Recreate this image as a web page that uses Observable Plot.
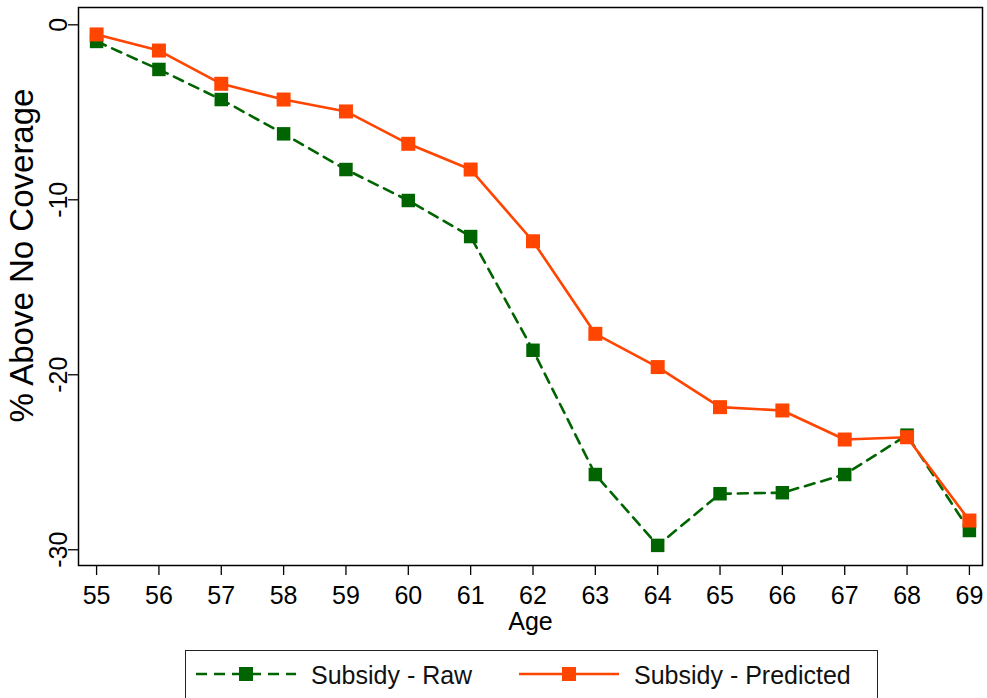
<!DOCTYPE html>
<html>
<head>
<meta charset="utf-8">
<script src="https://cdn.jsdelivr.net/npm/d3@7"></script>
<script src="https://cdn.jsdelivr.net/npm/@observablehq/plot@0.6"></script>
<style>
  html, body { margin: 0; padding: 0; background: white; overflow: hidden; }
  #chart svg { display: block; }
  #legend { position: relative; margin-left: 185px; margin-top: 5px; width: 693px; height: 60px;
            border: 1.5px solid #222; box-sizing: border-box; font-family: "Liberation Sans", Arial, sans-serif; }
  #legend .lab { position: absolute; font-size: 25px; line-height: 25px; top: 12px; color: #111; white-space: nowrap; }
  #legend svg { position: absolute; top: 12.5px; }
</style>
</head>
<body>
<div id="chart"></div>
<div id="legend"></div>
<script>
const ages = [55, 56, 57, 58, 59, 60, 61, 62, 63, 64, 65, 66, 67, 68, 69];
const raw = [-0.95, -2.55, -4.27, -6.23, -8.27, -10.04, -12.1, -18.6, -25.7, -29.75, -26.8, -26.74, -25.7, -23.45, -28.9];
const predicted = [-0.55, -1.47, -3.37, -4.27, -4.95, -6.8, -8.27, -12.37, -17.66, -19.56, -21.85, -22.04, -23.7, -23.57, -28.33];
const yTicks = [0, -10, -20, -30];
const seriesNames = ["Subsidy - Raw", "Subsidy - Predicted"];
const colors = ["#006400", "#FF4500"];

const rawData = ages.map((a, i) => ({age: a, value: raw[i]}));
const predData = ages.map((a, i) => ({age: a, value: predicted[i]}));
const fmt = d => String(d);

const chart = Plot.plot({
  width: 987,
  height: 645,
  marginLeft: 78,
  marginRight: 5,
  marginTop: 7,
  marginBottom: 80,
  x: {domain: [54.71, 69.21]},
  y: {domain: [-30.9, 0.99]},
  style: {fontFamily: "'Liberation Sans', Arial, sans-serif", fontSize: "25px", color: "black", background: "white"},
  marks: [
    Plot.frame({stroke: "black", strokeWidth: 1.5}),
    Plot.axisX({ticks: ages, tickFormat: fmt, tickSize: 10, tickPadding: 11, label: null, strokeWidth: 1.3}),
    Plot.axisY({ticks: yTicks, tickFormat: () => "", tickSize: 10, label: null, strokeWidth: 1.3}),
    Plot.text(yTicks, {y: d => d, text: fmt, frameAnchor: "left", dx: -20, rotate: -90, textAnchor: "middle", lineAnchor: "middle", fill: "black"}),
    Plot.text(["% Above No Coverage"], {frameAnchor: "left", text: d => d, dx: -56, dy: -31, rotate: -90, textAnchor: "middle", lineAnchor: "middle", fontSize: 33, fill: "black"}),
    Plot.text(["Age"], {frameAnchor: "bottom", text: d => d, dy: 56, textAnchor: "middle", lineAnchor: "middle", fill: "black"}),
    Plot.line(rawData, {x: "age", y: "value", stroke: colors[0], strokeWidth: 2.6, strokeDasharray: "10,7"}),
    Plot.dot(rawData, {x: "age", y: "value", symbol: "square", r: 7.6, fill: colors[0], stroke: null}),
    Plot.line(predData, {x: "age", y: "value", stroke: colors[1], strokeWidth: 2.6}),
    Plot.dot(predData, {x: "age", y: "value", symbol: "square", r: 7.9, fill: colors[1], stroke: null})
  ]
});
document.getElementById("chart").append(chart);

// Legend
const legend = document.getElementById("legend");
const items = [
  {name: seriesNames[0], color: colors[0], dash: "11,7", swatchLeft: 9, textLeft: 125},
  {name: seriesNames[1], color: colors[1], dash: null, swatchLeft: 332, textLeft: 448}
];
for (const it of items) {
  const svg = d3.create("svg").attr("width", 102).attr("height", 20).style("left", it.swatchLeft + "px");
  svg.append("line").attr("x1", 1).attr("x2", 101).attr("y1", 10).attr("y2", 10)
    .attr("stroke", it.color).attr("stroke-width", 2.6).attr("stroke-dasharray", it.dash);
  svg.append("rect").attr("x", 44).attr("y", 3).attr("width", 14).attr("height", 14).attr("fill", it.color);
  legend.append(svg.node());
  const s = document.createElement("span");
  s.className = "lab";
  s.style.left = it.textLeft + "px";
  s.textContent = it.name;
  legend.append(s);
}
</script>
</body>
</html>
